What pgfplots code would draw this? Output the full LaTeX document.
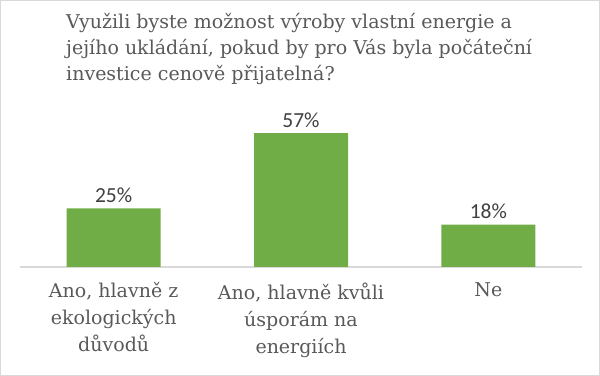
\documentclass[border=0pt]{standalone}
\usepackage{fontspec}
\setmainfont{DejaVu Serif}
\newfontfamily\lbl{Carlito}
\usepackage{pgfplots}
\pgfplotsset{compat=1.18}
\definecolor{txt}{HTML}{595959}
\definecolor{lab}{HTML}{404040}
\definecolor{bar}{HTML}{70AD47}
\definecolor{grid}{HTML}{D9D9D9}
\begin{document}
\begin{tikzpicture}
\path[use as bounding box] (0,0) rectangle (600bp,376bp);
\draw[grid, line width=1bp] (0.5bp,0.5bp) rectangle (599.5bp,375.5bp);
\node[anchor=base west, align=left, inner sep=0pt, text=txt, font={\fontsize{19bp}{26bp}\selectfont}] at (66bp,295bp)
 {Využili byste možnost výroby vlastní energie a\\jejího ukládání, pokud by pro Vás byla počáteční\\investice cenově přijatelná?};
\begin{axis}[
  at={(20bp,109bp)}, anchor=south west,
  scale only axis, width=562bp, height=141bp,
  xmin=-0.5, xmax=2.5, ymin=0, ymax=60,
  axis y line=none, axis x line*=bottom,
  x axis line style={grid, line width=1.2bp, -},
  xtick={0,1,2}, major tick length=0pt,
  xticklabels={{Ano, hlavně z\\ekologických\\důvodů},{Ano, hlavně kvůli\\úsporám na\\energiích},{Ne}},
  xticklabel style={align=center, text=txt, font={\fontsize{19bp}{27bp}\selectfont}, anchor=north, yshift=-12bp},
  ybar, bar width=94bp,
  /pgf/number format/assume math mode=true,
  nodes near coords={\pgfmathprintnumber{\pgfplotspointmeta}\%},
  nodes near coords style={text=lab, font={\lbl\fontsize{21.5bp}{24bp}\selectfont}, anchor=base, inner sep=0pt, yshift=6bp},
  clip=false,
]
\addplot[fill=bar, draw=none] coordinates {(0,25) (1,57) (2,18)};
\end{axis}
\end{tikzpicture}
\end{document}
